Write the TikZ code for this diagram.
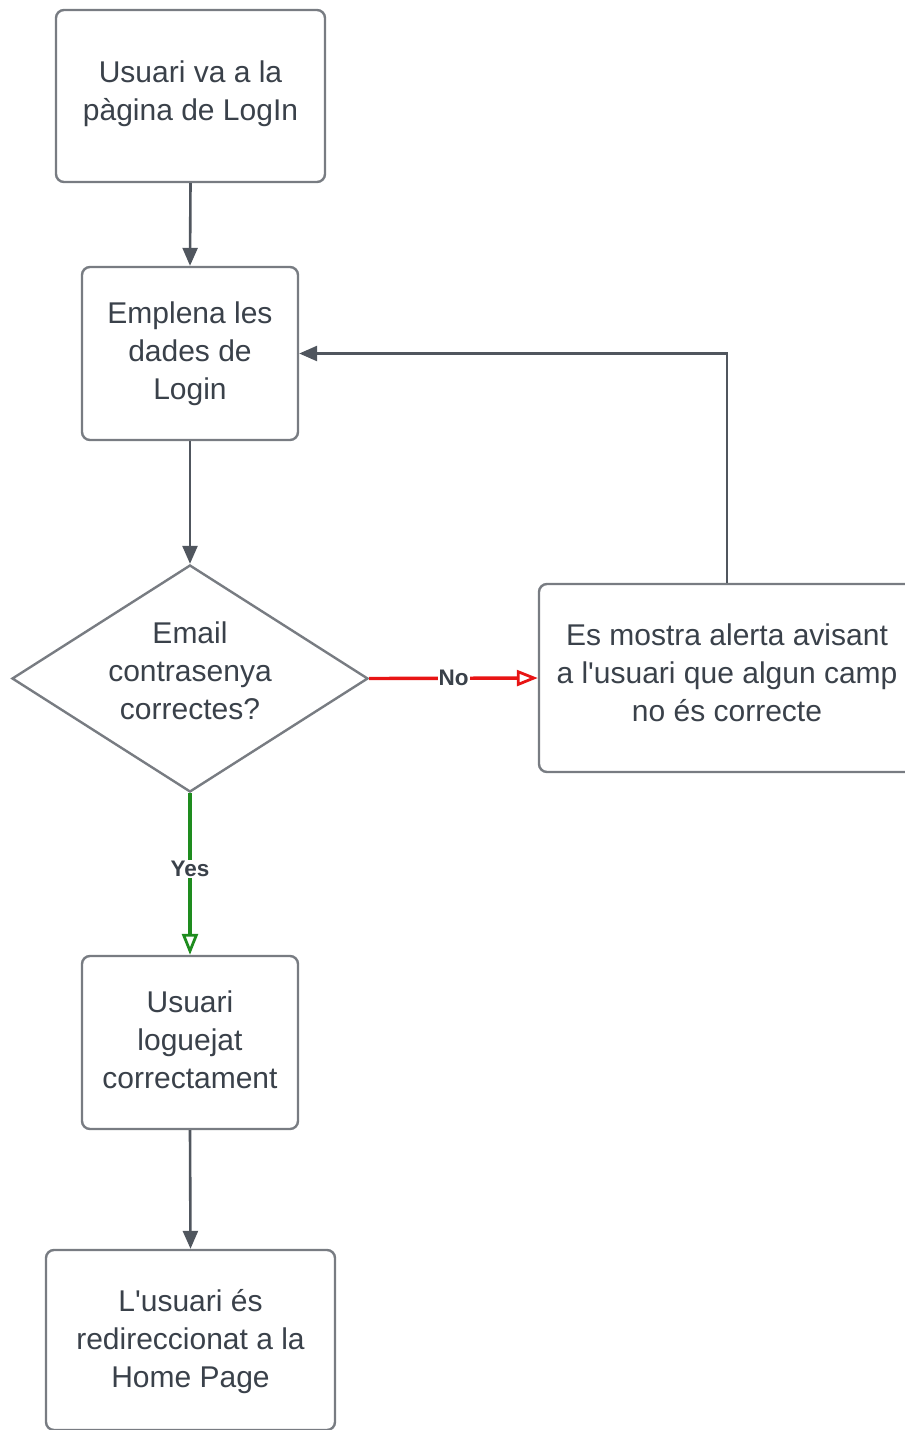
\documentclass[tikz,border=0pt]{standalone}
\usepackage{fontspec}
\setmainfont{Liberation Sans}
\usetikzlibrary{arrows.meta,shapes.geometric}
\definecolor{ink}{RGB}{58,65,74}
\definecolor{edge}{RGB}{120,124,130}
\definecolor{flow}{RGB}{80,86,94}
\definecolor{nored}{RGB}{232,20,20}
\definecolor{yesgreen}{RGB}{30,140,30}
\newcommand{\apos}{\textquotesingle}
\tikzset{
  bodytext/.style={text=ink, align=center, inner sep=0pt,
    font=\fontsize{30}{38}\selectfont},
  procbox/.style={draw=edge, line width=2.4pt, rounded corners=8pt, fill=white,
    bodytext},
  decision/.style={draw=edge, line width=2.4pt, diamond, fill=white,
    inner sep=0pt},
  flowline/.style={draw=flow, line width=2.6pt,
    -{Triangle[length=18pt,width=15pt]}},
  yesno/.style={line width=3.4pt, -{Triangle[open,length=21pt,width=16pt,line width=2.8pt]}},
  branchlabel/.style={fill=white, text=ink, inner sep=1pt,
    font=\fontsize{22.5}{26}\selectfont\bfseries}
}
\begin{document}
\begin{tikzpicture}[x=1pt,y=-1pt]
  \useasboundingbox (0,0) rectangle (905,1430);
  \clip (0,0) rectangle (905,1430);

  % process steps
  \node[procbox, minimum width=269pt, minimum height=172pt] (visit) at (190.5,96)
    {};
  \node[bodytext] (visittext) at (190.5,94) {Usuari va a la\\pàgina de LogIn};
  \node[procbox, minimum width=216pt, minimum height=173pt] (fill) at (190,353.5)
    {Emplena les\\dades de\\Login};
  \node[decision, minimum width=356pt, minimum height=227pt] (check) at (190,678.5) {};
  \node[bodytext] (checktext) at (190,671) {Email\\contrasenya\\correctes?};
  \node[procbox, minimum width=376pt, minimum height=188pt] (alert) at (727,678) {};
  \node[bodytext] (alerttext) at (727,673)
    {Es mostra alerta avisant\\a l\apos usuari que algun camp\\no és correcte};
  \node[procbox, minimum width=216pt, minimum height=173pt] (ok) at (190,1042.5) {};
  \node[bodytext] (oktext) at (190,1039.5) {Usuari\\loguejat\\correctament};
  \node[procbox, minimum width=289pt, minimum height=180pt] (home) at (190.5,1340) {};
  \node[bodytext] (hometext) at (190.5,1342) {L\apos usuari és\\redireccionat a la\\Home Page};

  % connectors
  \draw[flowline] (visit.south) -- (fill.north);
  \draw[flowline] (fill.south) -- (check.north);
  \draw[yesno, draw=nored] (check.east) -- node[branchlabel]{No} (alert.west);
  \draw[yesno, draw=yesgreen] (check.south) -- node[branchlabel, pos=0.47]{Yes} (ok.north);
  \draw[flowline] (alert.north) |- (fill.east);
  \draw[flowline] (ok.south) -- (home.north);
\end{tikzpicture}
\end{document}
